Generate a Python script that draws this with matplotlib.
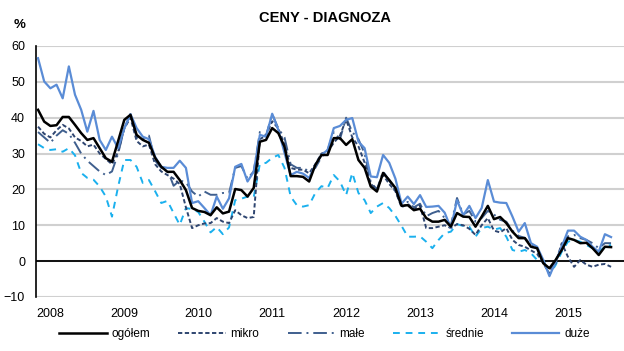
import matplotlib
matplotlib.use("Agg")
import matplotlib.pyplot as plt
import numpy as np

plt.rcParams['font.family'] = ['Liberation Sans', 'DejaVu Sans']

years = ['2008', '2009', '2010', '2011', '2012', '2013', '2014', '2015']

ogolem = [42.2, 38.9, 37.7, 37.9, 40.2, 40.2, 38.0, 35.7, 33.8, 34.3, 31.5, 28.7,
          27.7, 33.5, 39.4, 40.8, 35.2, 33.8, 33.0, 28.8, 26.3, 24.9, 24.9, 22.6,
          19.8, 14.8, 14.0, 13.7, 12.8, 15.0, 13.3, 13.8, 20.1, 19.8, 18.0, 20.4,
          33.3, 33.8, 37.1, 35.7, 31.9, 23.7, 23.7, 23.5, 22.2, 26.8, 29.6, 29.6,
          34.3, 34.3, 32.4, 34.0, 28.2, 26.0, 20.8, 19.4, 24.6, 22.6, 20.4, 15.4,
          15.6, 14.2, 14.6, 12.0, 11.0, 11.0, 11.5, 9.6, 13.4, 12.4, 12.3, 9.6,
          12.4, 15.4, 11.7, 12.3, 10.6, 8.2, 6.4, 6.4, 4.0, 3.6, -0.6, -2.0,
          0.3, 3.1, 6.4, 5.9, 5.0, 5.1, 3.6, 1.7, 4.0, 3.9]

mikro = [37.5, 35.5, 34.5, 36.5, 38.0, 37.0, 34.5, 33.5, 32.0, 32.5, 30.0, 28.5,
         27.0, 30.5, 37.0, 40.0, 33.5, 32.0, 32.5, 27.0, 25.0, 24.0, 23.0, 21.5,
         15.0, 9.2, 10.0, 10.5, 10.6, 12.0, 11.0, 10.6, 14.2, 12.8, 12.0, 12.3,
         34.0, 35.0, 39.0, 37.0, 32.5, 26.0, 25.5, 25.5, 24.5, 27.0, 30.0, 30.5,
         33.0, 35.0, 39.5, 34.5, 32.0, 27.5, 21.5, 20.0, 24.0, 21.5, 19.5, 15.0,
         16.0, 14.5, 15.5, 9.2, 9.2, 9.6, 10.0, 9.2, 10.3, 10.0, 9.0, 7.3,
         10.0, 12.0, 8.5, 8.0, 9.2, 5.9, 4.5, 4.0, 3.0, 2.0, -0.6, -3.5,
         -0.6, 5.0, 1.2, -1.6, 0.3, -1.0, -1.6, -1.0, -0.8, -1.6]

male = [36.0, 34.5, 33.0, 35.0, 36.5, 35.5, 33.0, 30.0, 28.0, 26.5, 25.0, 24.0,
        25.0, 30.0, 37.0, 41.0, 34.5, 34.0, 35.0, 28.0, 26.0, 25.5, 21.0, 22.5,
        22.0, 19.4, 18.0, 19.4, 18.5, 18.5, 19.0, 19.0, 26.0, 26.5, 23.0, 25.0,
        36.0, 35.0, 41.0, 37.0, 34.5, 27.0, 26.0, 26.0, 25.0, 26.0, 29.0, 31.0,
        36.0, 34.0, 40.0, 36.0, 34.0, 30.0, 22.0, 20.0, 25.0, 22.5, 19.5, 15.5,
        16.5, 15.0, 16.0, 12.5, 13.4, 14.0, 12.0, 10.0, 17.6, 13.0, 14.0, 11.0,
        12.0, 14.0, 13.0, 11.5, 11.0, 8.5, 7.0, 6.5, 4.5, 3.5, -0.5, -2.5,
        0.0, 4.5, 6.9, 7.3, 6.4, 5.9, 5.0, 3.6, 5.0, 5.0]

srednie = [32.6, 31.5, 31.0, 31.2, 30.5, 31.5, 29.5, 24.6, 23.2, 22.7, 20.8, 18.0,
           12.4, 20.8, 28.2, 28.2, 26.3, 21.8, 22.6, 19.5, 16.2, 16.8, 13.4, 10.1,
           14.8, 14.5, 13.7, 11.0, 8.0, 9.5, 7.5, 9.4, 17.0, 17.4, 18.0, 17.8,
           27.1, 27.4, 28.8, 29.6, 26.0, 18.0, 15.6, 15.2, 15.6, 19.0, 20.9, 20.4,
           24.0, 22.2, 18.4, 24.6, 19.0, 17.0, 13.4, 15.2, 16.2, 14.8, 12.6, 9.8,
           6.8, 6.8, 6.9, 5.4, 3.6, 5.9, 7.8, 8.2, 10.3, 9.8, 9.6, 6.8,
           9.2, 9.6, 8.8, 9.2, 6.8, 3.1, 2.6, 3.1, 2.2, 0.3, 0.3, -3.8,
           -1.1, 2.6, 5.4, 5.9, 5.4, 4.5, 3.6, 2.6, 4.0, 4.5]

duze = [56.6, 50.1, 48.2, 49.2, 45.4, 54.3, 46.4, 42.2, 36.1, 41.9, 33.8, 31.0,
        34.7, 31.5, 37.0, 41.0, 37.1, 34.7, 34.0, 29.1, 26.3, 26.0, 26.0, 28.0,
        26.0, 16.2, 16.7, 14.8, 12.8, 18.0, 14.6, 17.5, 26.3, 27.1, 22.2, 24.9,
        35.2, 34.7, 41.1, 36.6, 30.2, 24.0, 24.9, 24.4, 23.2, 26.8, 29.6, 31.0,
        37.1, 37.7, 39.4, 39.9, 33.3, 31.5, 23.6, 23.4, 29.6, 27.4, 23.0, 16.0,
        18.0, 15.9, 18.4, 15.1, 15.2, 15.4, 13.5, 9.2, 17.0, 12.8, 15.4, 12.0,
        14.8, 22.6, 16.6, 16.3, 16.2, 12.4, 8.2, 10.6, 5.0, 4.0, 0.3, -4.2,
        -0.2, 4.0, 8.5, 8.5, 6.8, 5.9, 4.0, 2.6, 7.5, 6.7]

x = np.arange(len(ogolem))

fig = plt.figure(figsize=(6.24, 3.51), dpi=100)
ax = fig.add_axes([0.058, 0.154, 0.942, 0.715])

ax.plot(x, ogolem, color='black', lw=1.8, label='ogółem', zorder=6)
ax.plot(x, mikro, color='#2E4570', lw=1.4, dashes=(2.2, 1.3), label='mikro', zorder=4)
ax.plot(x, male, color='#3F5F8E', lw=1.4, dashes=(7, 2.5, 1, 2.5), label='małe', zorder=3)
ax.plot(x, srednie, color='#1AB0EE', lw=1.4, dashes=(3.5, 3), label='średnie', zorder=2)
ax.plot(x, duze, color='#5A8CD6', lw=1.6, label='duże', zorder=5)

ax.axhline(0, color='black', lw=1.3, zorder=1)
ax.set_ylim(-10, 60)
ax.set_yticks(range(-10, 61, 10))
ax.set_xlim(-0.3, 95.1)
ax.set_xticks(2 + 12 * np.arange(len(years)))
ax.set_xticklabels(years)
ax.yaxis.grid(True, color='#D0D0D0', lw=1.5)
ax.set_axisbelow(True)
for side in ['top', 'right', 'bottom']:
    ax.spines[side].set_visible(False)
ax.spines['left'].set_color('black')
ax.spines['left'].set_linewidth(1.2)
ax.tick_params(axis='both', length=0, labelsize=9)
ax.tick_params(axis='x', pad=8)
ax.tick_params(axis='y', pad=8)

fig.text(0.521, 0.948, 'CENY - DIAGNOZA', ha='center', va='center',
         fontsize=10.5, fontweight='bold')
fig.text(0.022, 0.93, '%', ha='left', va='center', fontsize=9.5, fontweight='bold')

fig.legend(loc='center', bbox_to_anchor=(0.52, 0.048), ncol=5, frameon=False,
           fontsize=8.5, handlelength=4.0, columnspacing=2.4, handletextpad=0.4)

fig.savefig('out.png', dpi=100)
